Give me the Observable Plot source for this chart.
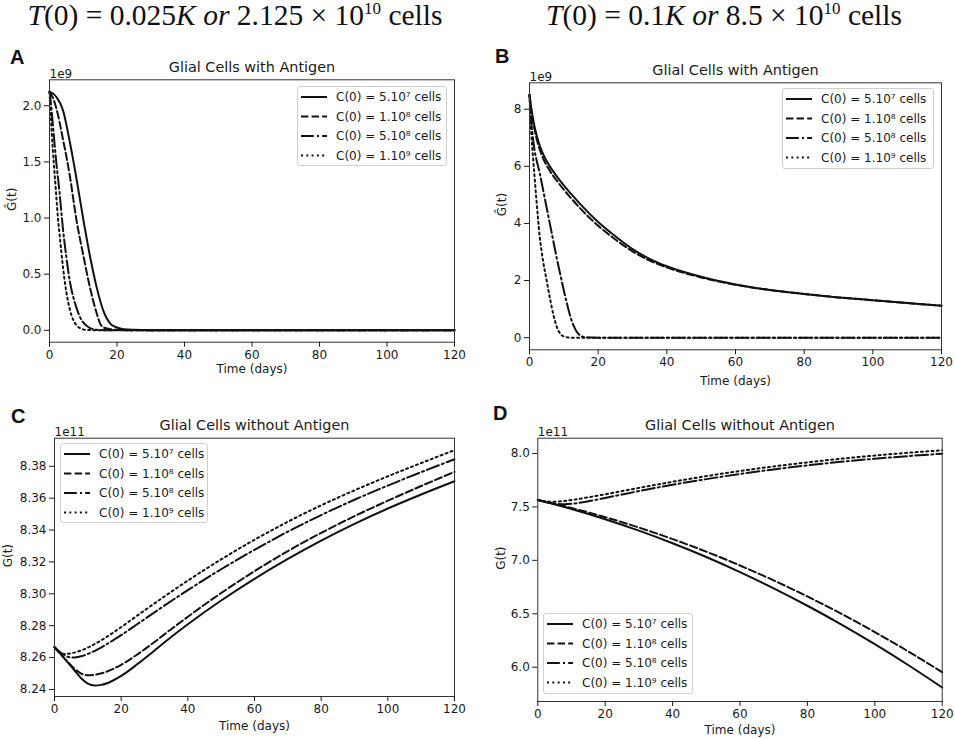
<!DOCTYPE html>
<html><head><meta charset="utf-8">
<script src="https://cdn.jsdelivr.net/npm/d3@7"></script>
<script src="https://cdn.jsdelivr.net/npm/@observablehq/plot@0.6"></script>
<style>
body{margin:0;background:#fff;}
#root{position:relative;width:955px;height:739px;overflow:hidden;background:#fff;font-family:"DejaVu Sans";color:#1a1a1a}
.abs{position:absolute}
.hdr{position:absolute;top:0;width:600px;text-align:center;font-family:"Liberation Serif";font-size:29.5px;line-height:30px;white-space:nowrap;color:#111}
.hdr sup{font-size:17px;vertical-align:0;position:relative;top:-11px}
.letter{position:absolute;font-family:"Liberation Sans";font-weight:bold;font-size:20px;line-height:20px;color:#111}
.leg{position:absolute;border:1px solid #cfcfcf;border-radius:3px;background:rgba(255,255,255,0.85);box-sizing:border-box}
.leg svg{position:absolute;left:0;top:0;overflow:visible}
</style></head><body><div id="root"></div>
<script>
// ---------- data ----------
const xTicks = [0, 20, 40, 60, 80, 100, 120];
const seriesLabels = ["C(0) = 5.10\u2077 cells", "C(0) = 1.10\u2078 cells", "C(0) = 5.10\u2078 cells", "C(0) = 1.10\u2079 cells"];

// Panel A: glial cells with antigen, T(0)=0.025K (units 1e9)
const A_t1 = [0,2,4,6,8,10,12,14,16,18,20,22,25,30,40,60,80,100,120];
const A_v1 = [2.125,2.08,1.96,1.68,1.35,0.99,0.66,0.38,0.17,0.06,0.025,0.01,0.004,0.001,0,0,0,0,0];
const A_t2 = [0,1,2,4,6,8,10,12,14,15,16,18,20,25,30,60,90,120];
const A_v2 = [2.125,2.07,1.98,1.70,1.38,0.98,0.67,0.38,0.15,0.06,0.025,0.01,0.004,0.001,0,0,0,0];
const A_t3 = [0,0.5,1,2,3,4,5,6,7,8,9,10,11,12,14,16,20,40,80,120];
const A_v3 = [2.125,2.0,1.83,1.5,1.22,0.9,0.65,0.44,0.3,0.2,0.12,0.07,0.04,0.02,0.005,0.001,0,0,0,0];
const A_t4 = [0,0.5,1,1.5,2,2.5,3,3.5,4,5,6,7,8,9,10,12,15,40,80,120];
const A_v4 = [2.125,1.85,1.6,1.4,1.2,1.0,0.85,0.7,0.56,0.34,0.19,0.095,0.045,0.02,0.008,0.002,0,0,0,0];
const A_yTicks = [0, 0.5, 1.0, 1.5, 2.0];

// Panel B: glial cells with antigen, T(0)=0.1K (units 1e9)
const B_t1 = [0,0.5,1,2,3,4,6,8,10,12,15,20,25,30,35,40,50,60,70,80,90,100,110,120];
const B_v1 = [8.5,8.05,7.68,7.12,6.72,6.42,5.98,5.64,5.33,5.05,4.65,4.05,3.55,3.1,2.76,2.5,2.13,1.86,1.67,1.53,1.41,1.31,1.21,1.12];
const B_t2 = [0,0.5,1,2,3,4,6,8,10,12,15,20,25,30,35,40,50,60,70,80,90,100,110,120];
const B_v2 = [8.5,8.0,7.6,7.0,6.58,6.27,5.83,5.49,5.18,4.9,4.5,3.92,3.44,3.02,2.7,2.46,2.11,1.85,1.67,1.53,1.41,1.31,1.21,1.12];
const B_t3 = [0,0.5,1,1.5,2,3,4,5,6,7,8,9,10,11,12,13,14,15,16,18,20,40,60,80,100,120];
const B_v3 = [8.5,7.6,7.0,6.55,6.25,5.75,5.15,4.55,3.95,3.35,2.75,2.2,1.65,1.15,0.7,0.38,0.17,0.06,0.02,0.003,0,0,0,0,0,0];
const B_t4 = [0,0.25,0.5,1,1.5,2,2.5,3,3.5,4,5,6,7,8,9,10,11,12,20,40,60,80,100,120];
const B_v4 = [8.5,7.7,7.2,6.35,5.6,4.85,4.15,3.5,3.05,2.65,2.0,1.35,0.78,0.36,0.13,0.04,0.01,0,0,0,0,0,0,0];
const B_yTicks = [0, 2, 4, 6, 8];

// Panel C: glial cells without antigen, T(0)=0.025K (units 1e11)
const C_t1 = [0,2,4,6,8,10,12,14,16,20,25,30,35,40,50,60,70,80,90,100,110,120];
const C_v1 = [8.2665,8.2619,8.2570,8.2519,8.2471,8.2437,8.2425,8.2429,8.2441,8.2485,8.2561,8.2645,8.2729,8.2809,8.2958,8.3094,8.3219,8.3334,8.3439,8.3535,8.3623,8.3706];
const C_t2 = [0,2,4,6,8,10,12,15,20,25,30,35,40,50,60,70,80,90,100,110,120];
const C_v2 = [8.2665,8.2618,8.2572,8.2530,8.2500,8.2489,8.2492,8.2507,8.2555,8.2622,8.2698,8.2778,8.2856,8.3005,8.3142,8.3268,8.3382,8.3487,8.3584,8.3676,8.3765];
const C_t3 = [0,1,2,3,4,5,6,8,10,15,20,25,30,40,50,60,70,80,90,100,110,120];
const C_v3 = [8.2665,8.2646,8.2629,8.2615,8.2605,8.2600,8.2601,8.2608,8.2623,8.2676,8.2741,8.2812,8.2884,8.3023,8.3154,8.3276,8.3390,8.3494,8.3590,8.3679,8.3763,8.3844];
const C_t4 = [0,1,2,3,5,8,10,15,20,25,30,40,50,60,70,80,90,100,110,120];
const C_v4 = [8.2665,8.2642,8.2628,8.2623,8.2627,8.2645,8.2663,8.2721,8.2791,8.2866,8.2940,8.3083,8.3216,8.3339,8.3452,8.3555,8.3649,8.3737,8.3820,8.3901];
const C_yTicks = [8.24, 8.26, 8.28, 8.30, 8.32, 8.34, 8.36, 8.38];

// Panel D: glial cells without antigen, T(0)=0.1K (units 1e11)
const D_t1 = [0,10,20,30,40,50,60,70,80,90,100,110,120];
const D_v1 = [7.565,7.481,7.385,7.278,7.160,7.031,6.890,6.738,6.575,6.401,6.215,6.018,5.810];
const D_t2 = [0,10,20,30,40,50,60,70,80,90,100,110,120];
const D_v2 = [7.565,7.490,7.404,7.307,7.199,7.081,6.952,6.812,6.662,6.501,6.329,6.146,5.953];
const D_t3 = [0,2,4,6,8,10,12,15,20,25,30,40,50,60,70,80,90,100,110,120];
const D_v3 = [7.565,7.548,7.535,7.527,7.525,7.529,7.537,7.553,7.584,7.616,7.648,7.707,7.760,7.808,7.851,7.889,7.922,7.951,7.976,7.998];
const D_t4 = [0,2,4,6,8,10,15,20,30,40,50,60,70,80,90,100,110,120];
const D_v4 = [7.565,7.553,7.549,7.550,7.556,7.564,7.590,7.618,7.678,7.735,7.788,7.836,7.879,7.917,7.951,7.981,8.007,8.030];
const D_yTicks = [6.0, 6.5, 7.0, 7.5, 8.0];

// ---------- styles ----------
const dashes = [null, "7.4,3.2", "12.8,3.2,2,3.2", "2,3.3"];
const ink = "#111";
const root = document.getElementById("root");

function zip(t, v) { return t.map((d, i) => ({t: d, v: v[i]})); }

function header(html, center) {
  const d = document.createElement("div");
  d.className = "hdr";
  d.style.left = (center - 300) + "px";
  d.innerHTML = html;
  root.appendChild(d);
}
header("<i>T</i>(0) = 0.025<i>K</i> <i>or</i> 2.125 × 10<sup>10</sup> cells", 235);
header("<i>T</i>(0) = 0.1<i>K</i> <i>or</i> 8.5 × 10<sup>10</sup> cells", 724);

function panel(cfg) {
  const marks = [];
  cfg.series.forEach((s, i) => {
    marks.push(Plot.line(zip(s[0], s[1]), {x: "t", y: "v", stroke: ink, strokeWidth: 2,
      strokeDasharray: dashes[i] || undefined, curve: "monotone-x"}));
  });
  marks.push(
    Plot.frame({stroke: "#333", strokeWidth: 1}),
    Plot.axisX({ticks: xTicks, tickSize: 5, tickPadding: 3, label: null, tickFormat: d => String(d)}),
    Plot.axisY({ticks: cfg.yTicks, tickSize: 5, tickPadding: 3, label: null, tickFormat: cfg.fmt}),
    Plot.text([cfg.title], {text: d => d, frameAnchor: "top", lineAnchor: "middle", dy: cfg.titleDy, fontSize: 14.4}),
    Plot.text([cfg.exp], {text: d => d, frameAnchor: "top-left", textAnchor: "start", lineAnchor: "bottom", dy: -2}),
    Plot.text(["Time (days)"], {text: d => d, frameAnchor: "bottom", lineAnchor: "middle", dy: cfg.xlDy}),
    Plot.text([cfg.ylab], {text: d => d, frameAnchor: "left", lineAnchor: "middle", dx: cfg.ylDx, rotate: -90})
  );
  const svg = Plot.plot({
    width: cfg.w, height: cfg.h,
    marginLeft: cfg.m[0], marginRight: cfg.m[1], marginTop: cfg.m[2], marginBottom: cfg.m[3],
    x: {domain: [0, 120]},
    y: {domain: cfg.yDomain},
    style: {fontFamily: "DejaVu Sans", fontSize: "12px", color: "#1a1a1a", background: "transparent", overflow: "visible"},
    marks
  });
  const wrap = document.createElement("div");
  wrap.className = "abs";
  wrap.style.left = cfg.left + "px";
  wrap.style.top = cfg.top + "px";
  wrap.appendChild(svg);
  root.appendChild(wrap);

  const L = document.createElement("div");
  L.className = "letter";
  L.textContent = cfg.letter;
  L.style.left = cfg.letterPos[0] + "px";
  L.style.top = cfg.letterPos[1] + "px";
  root.appendChild(L);

  const lg = cfg.legend;
  const box = document.createElement("div");
  box.className = "leg";
  box.style.left = lg[0] + "px"; box.style.top = lg[1] + "px";
  box.style.width = lg[2] + "px"; box.style.height = lg[3] + "px";
  const ns = "http://www.w3.org/2000/svg";
  const s = document.createElementNS(ns, "svg");
  s.setAttribute("width", lg[2]); s.setAttribute("height", lg[3]);
  seriesLabels.forEach((lab, i) => {
    const y = 10 + i * 19.5;
    const ln = document.createElementNS(ns, "line");
    ln.setAttribute("x1", 3); ln.setAttribute("x2", 29);
    ln.setAttribute("y1", y); ln.setAttribute("y2", y);
    ln.setAttribute("stroke", ink); ln.setAttribute("stroke-width", 2);
    if (dashes[i]) ln.setAttribute("stroke-dasharray", dashes[i]);
    s.appendChild(ln);
    const tx = document.createElementNS(ns, "text");
    tx.setAttribute("x", 38); tx.setAttribute("y", y + 4.3);
    tx.setAttribute("font-family", "DejaVu Sans"); tx.setAttribute("font-size", "12px");
    tx.setAttribute("fill", "#1a1a1a");
    tx.textContent = lab;
    s.appendChild(tx);
  });
  box.appendChild(s);
  root.appendChild(box);
}

panel({letter: "A", letterPos: [10, 47], left: 0, top: 45, w: 477, h: 340, m: [49, 23, 34.3, 43.3],
  yDomain: [-0.106, 2.231], yTicks: A_yTicks, fmt: d3.format(".1f"),
  title: "Glial Cells with Antigen", titleDy: -12, exp: "1e9", xlDy: 27, ylab: "\u011C(t)", ylDx: -37,
  series: [[A_t1, A_v1], [A_t2, A_v2], [A_t3, A_v3], [A_t4, A_v4]],
  legend: [297, 86, 150, 80]});

panel({letter: "B", letterPos: [495, 46], left: 480, top: 45, w: 475, h: 347, m: [49, 14, 37.3, 42.7],
  yDomain: [-0.425, 8.925], yTicks: B_yTicks, fmt: d => String(d),
  title: "Glial Cells with Antigen", titleDy: -12, exp: "1e9", xlDy: 31, ylab: "\u011C(t)", ylDx: -27,
  series: [[B_t1, B_v1], [B_t2, B_v2], [B_t3, B_v3], [B_t4, B_v4]],
  legend: [782, 88, 152, 81]});

panel({letter: "C", letterPos: [11, 406], left: 0, top: 395, w: 477, h: 344, m: [54, 23, 42.7, 43],
  yDomain: [8.2356, 8.3976], yTicks: C_yTicks, fmt: d3.format(".2f"),
  title: "Glial Cells without Antigen", titleDy: -13, exp: "1e11", xlDy: 30, ylab: "G(t)", ylDx: -46,
  series: [[C_t1, C_v1], [C_t2, C_v2], [C_t3, C_v3], [C_t4, C_v4]],
  legend: [60, 443, 148, 80]});

panel({letter: "D", letterPos: [493, 403], left: 480, top: 395, w: 475, h: 344, m: [57.3, 13.3, 42.7, 38],
  yDomain: [5.679, 8.143], yTicks: D_yTicks, fmt: d3.format(".1f"),
  title: "Glial Cells without Antigen", titleDy: -13, exp: "1e11", xlDy: 29, ylab: "G(t)", ylDx: -37,
  series: [[D_t1, D_v1], [D_t2, D_v2], [D_t3, D_v3], [D_t4, D_v4]],
  legend: [543, 613, 150, 81]});
</script></body></html>
